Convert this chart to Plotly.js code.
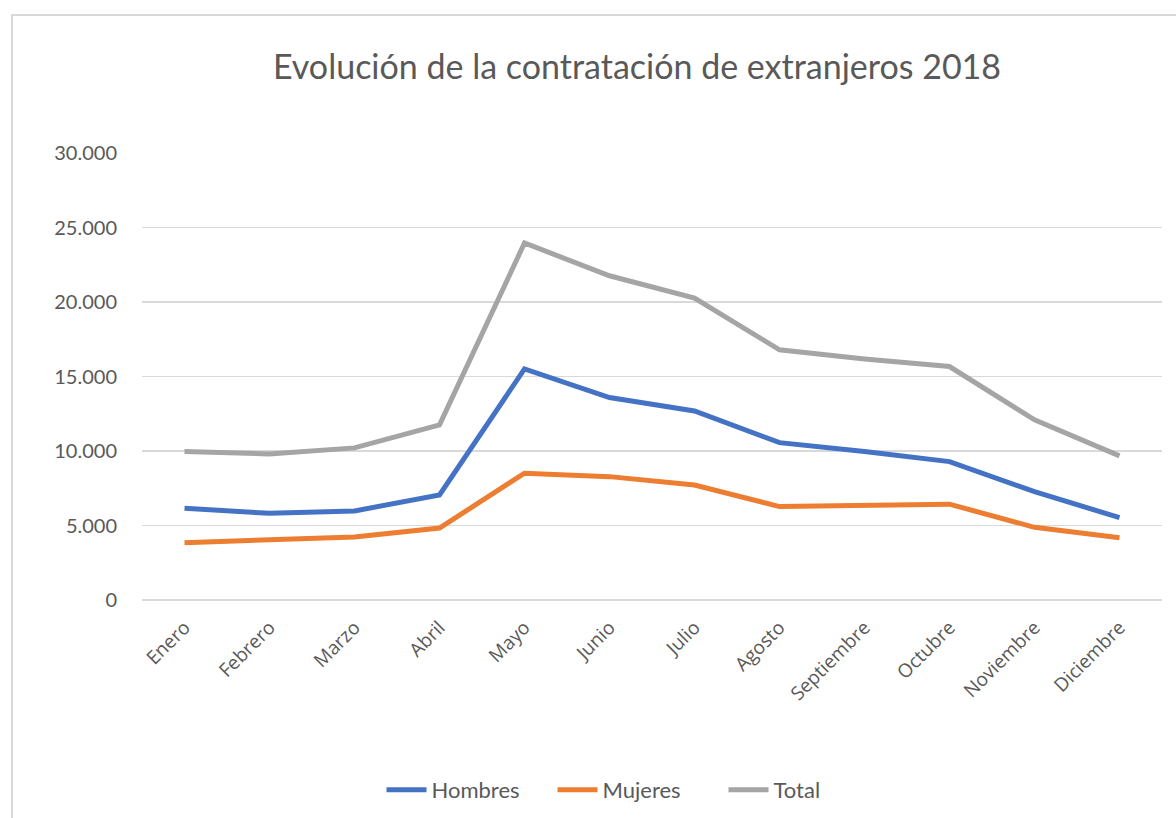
<!DOCTYPE html>
<html>
<head>
<meta charset="utf-8">
<script src="https://cdn.plot.ly/plotly-3.0.1.min.js"></script>
<style>
html,body{margin:0;padding:0;background:#fff;overflow:hidden;}
#frame{position:absolute;left:11px;top:14px;width:1400px;height:1000px;border:2px solid #d9d9d9;box-sizing:border-box;pointer-events:none;z-index:2;}
#chart{position:absolute;left:0;top:0;width:1176px;height:818px;z-index:1;}
</style>
</head>
<body>
<div id="frame"></div>
<div id="chart"></div>
<script>
const months = ["Enero","Febrero","Marzo","Abril","Mayo","Junio","Julio","Agosto","Septiembre","Octubre","Noviembre","Diciembre"];
const hombres = [6150, 5820, 5980, 7050, 15510, 13590, 12690, 10560, 9960, 9290, 7270, 5530];
const mujeres = [3850, 4030, 4230, 4830, 8510, 8280, 7720, 6270, 6330, 6430, 4880, 4180];
const total   = [9960, 9800, 10210, 11750, 23960, 21760, 20260, 16790, 16170, 15670, 12090, 9670];
const yTicks = [0, 5000, 10000, 15000, 20000, 25000, 30000];

const lineW = 5;
const traces = [
  {x: months, y: hombres, name: "Hombres", type: "scatter", mode: "lines", line: {color: "#4472C4", width: lineW}},
  {x: months, y: mujeres, name: "Mujeres", type: "scatter", mode: "lines", line: {color: "#ED7D31", width: lineW}},
  {x: months, y: total,   name: "Total",   type: "scatter", mode: "lines", line: {color: "#A5A5A5", width: lineW}}
];

const layout = {
  width: 1176, height: 818,
  margin: {l: 142, r: 14, t: 153, b: 218},
  paper_bgcolor: "rgba(0,0,0,0)",
  plot_bgcolor: "rgba(0,0,0,0)",
  separators: ",.",
  font: {family: "Lato, 'Open Sans', sans-serif", color: "#595959"},
  title: {
    text: "Evolución de la contratación de extranjeros 2018",
    font: {family: "Lato, sans-serif", size: 34, color: "#595959"},
    xref: "container", yref: "container",
    x: 637/1176, xanchor: "center",
    y: 1 - 67/818, yanchor: "middle"
  },
  xaxis: {
    type: "category",
    range: [-0.5, 11.5],
    showgrid: false, zeroline: false, showline: false,
    tickangle: -45,
    ticks: "outside", ticklen: 8, tickcolor: "rgba(0,0,0,0)",
    tickfont: {family: "'Open Sans', sans-serif", size: 19, color: "#595959"}
  },
  yaxis: {
    range: [0, 30000],
    tickvals: yTicks,
    tickformat: ",d",
    showgrid: true, gridcolor: "#d9d9d9", gridwidth: 1.5,
    zeroline: true, zerolinecolor: "#d9d9d9", zerolinewidth: 1.5,
    showline: false,
    ticks: "outside", ticklen: 20, tickcolor: "rgba(0,0,0,0)",
    tickfont: {family: "Lato, sans-serif", size: 20, color: "#595959"}
  },
  showlegend: true,
  legend: {
    orientation: "h",
    xref: "container", yref: "container",
    x: 638/1176, xanchor: "center",
    y: 1 - 790/818, yanchor: "middle",
    font: {family: "Lato, sans-serif", size: 22, color: "#595959"},
    itemwidth: 40,
    entrywidth: 116, entrywidthmode: "pixels",
    bgcolor: "rgba(0,0,0,0)"
  }
};

Plotly.newPlot("chart", traces, layout, {displayModeBar: false, staticPlot: true});
</script>
</body>
</html>
